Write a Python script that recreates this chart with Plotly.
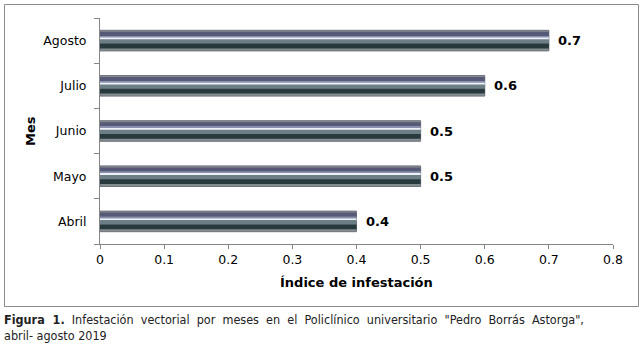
import plotly.graph_objects as go

# ---- data ----
months = ["Abril", "Mayo", "Junio", "Julio", "Agosto"]
index_values = [0.4, 0.5, 0.5, 0.6, 0.7]
x_ticks = [0, 0.1, 0.2, 0.3, 0.4, 0.5, 0.6, 0.7, 0.8]
x_tick_labels = ["0", "0.1", "0.2", "0.3", "0.4", "0.5", "0.6", "0.7", "0.8"]
x_title = "Índice de infestación"
y_title = "Mes"
caption_1_words = ["Infestación", "vectorial", "por", "meses", "en", "el", "Policlínico",
                   "universitario", "\"Pedro", "Borrás", "Astorga\","]
caption_2 = "abril- agosto 2019"

W, H = 644, 347
L, R, T, B = 100, 31, 18, 103
plot_h = H - T - B
px_per_unit = plot_h / 5.0

def u(px):
    return px / px_per_unit

fig = go.Figure()

# base bar (outer light border)
fig.add_trace(go.Bar(
    y=months, x=index_values, orientation="h",
    width=u(20.6), offset=u(-10.3),
    marker=dict(color="#848c90", line=dict(color="#70747c", width=1)),
    hoverinfo="skip", showlegend=False,
))

# shading layers: (top px, bottom px, colour)
layers = [
    (8.8, 4.6, "#575a76"),
    (4.6, 3.0, "#8a90ae"),
    (3.0, 1.3, "#eef2f8"),
    (1.3, -3.0, "#6c7e86"),
    (-3.0, -7.8, "#283a3e"),
]
for top, bot, col in layers:
    fig.add_trace(go.Bar(
        y=months, x=index_values, orientation="h",
        width=u(top - bot), offset=u(bot),
        marker=dict(color=col, line=dict(width=0)),
        hoverinfo="skip", showlegend=False,
    ))

# value labels
for m, v in zip(months, index_values):
    fig.add_annotation(x=v, y=m, xref="x", yref="y", text=f"<b>{v:.1f}</b>",
                       xanchor="left", yanchor="middle", xshift=7, showarrow=False,
                       font=dict(family="DejaVu Sans", size=13, color="#000000"))

fig.update_layout(
    width=W, height=H,
    margin=dict(l=L, r=R, t=T, b=B, autoexpand=False),
    paper_bgcolor="white", plot_bgcolor="white",
    barmode="overlay",
    font=dict(family="DejaVu Sans", size=12, color="#000000"),
    xaxis=dict(
        range=[0, 0.8], tickvals=x_ticks, ticktext=x_tick_labels,
        showgrid=False, zeroline=False, automargin=False,
        showline=True, linecolor="#868686", linewidth=1,
        ticks="outside", ticklen=4, tickcolor="#868686",
        tickfont=dict(family="DejaVu Sans", size=12.5, color="#000000"),
        fixedrange=True,
    ),
    yaxis=dict(
        type="category", categoryorder="array", categoryarray=months,
        range=[-0.5, 4.5], automargin=False,
        showgrid=False, zeroline=False,
        showline=True, linecolor="#868686", linewidth=1,
        ticks="outside", ticklen=5, tickcolor="#868686",
        tickson="boundaries", ticklabelstandoff=10,
        tickfont=dict(family="DejaVu Sans", size=12.5, color="#000000"),
        fixedrange=True,
    ),
)

plot_w = W - L - R

def xp(px):
    return (px - L) / plot_w

def yp(py):
    return (H - B - py) / plot_h

fig.add_shape(type="rect", xref="paper", yref="paper",
              x0=xp(4.5), x1=xp(638.5), y0=yp(306.5), y1=yp(4.5),
              line=dict(color="#8a8a8a", width=1), fillcolor="rgba(0,0,0,0)",
              layer="below")

fig.add_annotation(text=f"<b>{x_title}</b>", xref="paper", yref="paper",
                   x=0.5, y=yp(282), xanchor="center", yanchor="middle",
                   showarrow=False, font=dict(family="DejaVu Sans", size=13, color="#000000"))
fig.add_annotation(text=f"<b>{y_title}</b>", xref="paper", yref="paper",
                   x=xp(30), y=0.5, xanchor="center", yanchor="middle", textangle=-90,
                   showarrow=False, font=dict(family="DejaVu Sans", size=13, color="#000000"))
caption_1 = "<b>Figura&nbsp;&nbsp;1.</b>&nbsp;&nbsp;" + "&nbsp;&nbsp;".join(caption_1_words)
fig.add_annotation(text=caption_1, xref="paper", yref="paper",
                   x=xp(2), y=yp(319), xanchor="left", yanchor="middle", align="left",
                   showarrow=False, font=dict(family="DejaVu Sans Condensed", size=12.5, color="#222222"))
fig.add_annotation(text=caption_2, xref="paper", yref="paper",
                   x=xp(2), y=yp(335), xanchor="left", yanchor="middle", align="left",
                   showarrow=False, font=dict(family="DejaVu Sans Condensed", size=12.5, color="#222222"))

fig.write_html("out.html", config={"displayModeBar": False},
               post_script="document.body.style.margin='0px';")
